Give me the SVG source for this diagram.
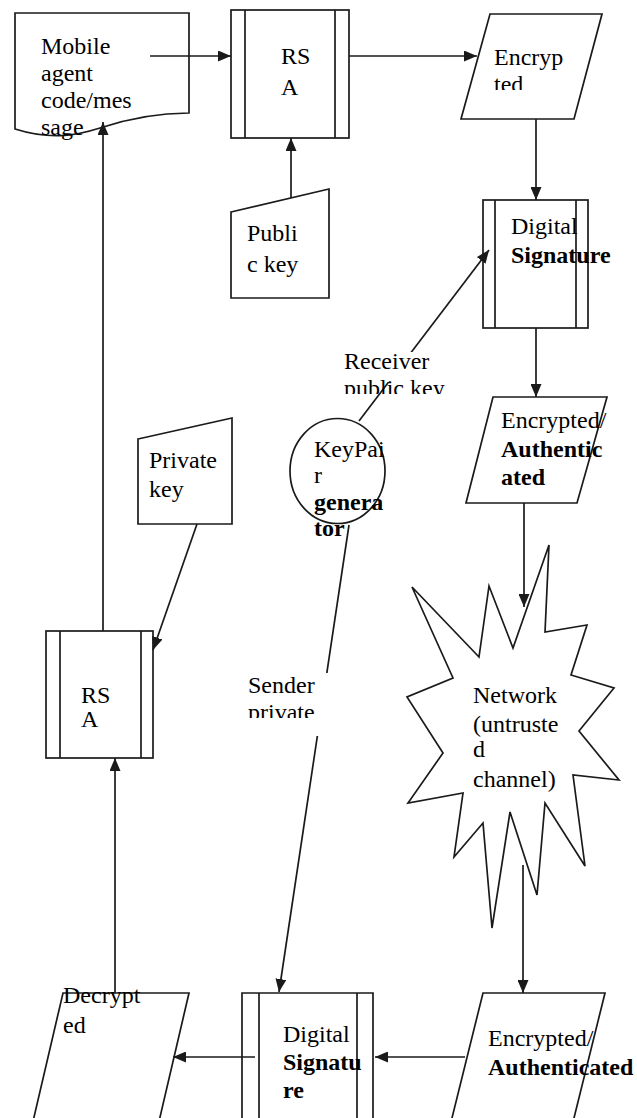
<svg xmlns="http://www.w3.org/2000/svg" width="637" height="1118" viewBox="0 0 637 1118">
<style>
.s{fill:#fff;stroke:#1a1a1a;stroke-width:1.7}
.l{fill:none;stroke:#1a1a1a;stroke-width:1.7}
.c{fill:none;stroke:#1a1a1a;stroke-width:1.7;marker-end:url(#ah)}
text{font-family:"Liberation Serif","Times New Roman",serif;font-size:24px;fill:#000}
.b{font-weight:bold}
</style>
<defs>
<marker id="ah" markerUnits="userSpaceOnUse" markerWidth="13" markerHeight="11" refX="13" refY="5.5" orient="auto">
<path d="M0,0 L13,5.5 L0,11 Z" fill="#1a1a1a"/>
</marker>
<clipPath id="cTed"><rect x="440" y="20" width="200" height="70"/></clipPath>
<clipPath id="cRecv"><rect x="330" y="340" width="120" height="54"/></clipPath>
<clipPath id="cSend"><rect x="240" y="670" width="100" height="48"/></clipPath>
</defs>
<rect width="637" height="1118" fill="#fff"/>

<g id="mobile-agent">
<path class="s" d="M15,13 H189 V113 C160,113 130,118 100,128 C75,136 50,140 15,129 Z"/>
<text x="41" y="54">Mobile</text>
<text x="41" y="81">agent</text>
<text x="41" y="108">code/mes</text>
<text x="41" y="135">sage</text>
</g>

<g id="rsa-top">
<rect class="s" x="231" y="10" width="118" height="128"/>
<line class="l" x1="245" y1="10" x2="245" y2="138"/>
<line class="l" x1="335" y1="10" x2="335" y2="138"/>
<text x="281" y="64">RS</text>
<text x="281" y="95">A</text>
</g>

<g id="encrypted-top">
<path class="s" d="M490,14 H602 L574,119 H461 Z"/>
<g clip-path="url(#cTed)">
<text x="494" y="65">Encryp</text>
<text x="494" y="92">ted</text>
</g>
</g>

<g id="public-key">
<path class="s" d="M231,212 L329,189 V298 H231 Z"/>
<text x="247" y="241">Publi</text>
<text x="247" y="272">c key</text>
</g>

<g id="digital-signature-top">
<rect class="s" x="483" y="200" width="105" height="128"/>
<line class="l" x1="495" y1="200" x2="495" y2="328"/>
<line class="l" x1="576" y1="200" x2="576" y2="328"/>
<text x="511" y="234">Digital</text>
<text x="511" y="263" class="b">Signature</text>
</g>

<g id="encrypted-authenticated-mid">
<path class="s" d="M493,397 H607 L577,503 H466 Z"/>
<text x="501" y="428">Encrypted/</text>
<text x="501" y="457" class="b">Authentic</text>
<text x="501" y="485" class="b">ated</text>
</g>

<g id="keypair-generator">
<ellipse class="s" cx="337.5" cy="471" rx="47.5" ry="52.5"/>
<text x="314" y="457">KeyPai</text>
<text x="314" y="483">r</text>
<text x="314" y="510" class="b">genera</text>
<text x="314" y="536" class="b">tor</text>
</g>

<g id="private-key">
<path class="s" d="M138,439 L232,418 V524 H138 Z"/>
<text x="149" y="468">Private</text>
<text x="149" y="497">key</text>
</g>

<g id="rsa-bottom">
<rect class="s" x="46" y="631" width="107" height="127"/>
<line class="l" x1="60" y1="631" x2="60" y2="758"/>
<line class="l" x1="141" y1="631" x2="141" y2="758"/>
<text x="81" y="703">RS</text>
<text x="81" y="727">A</text>
</g>

<g id="network">
<path class="s" d="M549,545 L545,632 L587,625 L571,675 L614,688 L579,731 L619,780 L573,775 L585,866 L545,803 L537,895 L510,812 L492,928 L483,823 L454,857 L463,793 L408,803 L443,753 L407,697 L453,678 L412,587 L479,657 L489,586 L513,648 Z"/>
<text x="473" y="703">Network</text>
<text x="473" y="732">(untruste</text>
<text x="473" y="757">d</text>
<text x="473" y="787">channel)</text>
</g>

<g id="encrypted-authenticated-bottom">
<path class="s" d="M483,993 H605 L571,1130 H449 Z"/>
<text x="488" y="1046">Encrypted/</text>
<text x="488" y="1075" class="b">Authenticated</text>
</g>

<g id="digital-signature-bottom">
<path class="s" d="M242,1130 V993 H373 V1130"/>
<line class="l" x1="259" y1="993" x2="259" y2="1130"/>
<line class="l" x1="357" y1="993" x2="357" y2="1130"/>
<text x="283" y="1042">Digital</text>
<text x="283" y="1070" class="b">Signatu</text>
<text x="283" y="1098" class="b">re</text>
</g>

<g id="decrypted">
<path class="s" d="M63,993 H189 L157,1130 H31 Z"/>
<text x="63" y="1003">Decrypt</text>
<text x="63" y="1033">ed</text>
</g>

<g id="connectors">
<line class="c" x1="150" y1="56" x2="231" y2="56"/>
<line class="c" x1="349" y1="56" x2="477" y2="56"/>
<line class="c" x1="291" y1="198" x2="291" y2="138"/>
<line class="c" x1="536" y1="119" x2="536" y2="200"/>
<line class="c" x1="359" y1="421" x2="489" y2="250"/>
<line class="c" x1="536" y1="328" x2="536" y2="397"/>
<line class="c" x1="524" y1="503" x2="524" y2="607"/>
<line class="c" x1="523" y1="865" x2="523" y2="993"/>
<line class="c" x1="465" y1="1057" x2="375" y2="1057"/>
<line class="c" x1="255" y1="1057" x2="173" y2="1057"/>
<line class="c" x1="115" y1="993" x2="115" y2="758"/>
<line class="c" x1="103" y1="631" x2="103" y2="122"/>
<line class="c" x1="197" y1="524" x2="153" y2="650"/>
<line class="c" x1="349" y1="525" x2="279" y2="992"/>
</g>

<g id="label-receiver">
<rect x="342" y="352" width="86" height="30" fill="#fff"/>
<g clip-path="url(#cRecv)">
<text x="344" y="369">Receiver</text>
<text x="344" y="396">public key</text>
</g>
</g>

<g id="label-sender">
<rect x="246" y="673" width="84" height="63" fill="#fff"/>
<g clip-path="url(#cSend)">
<text x="248" y="693">Sender</text>
<text x="248" y="720">private</text>
</g>
</g>
</svg>
